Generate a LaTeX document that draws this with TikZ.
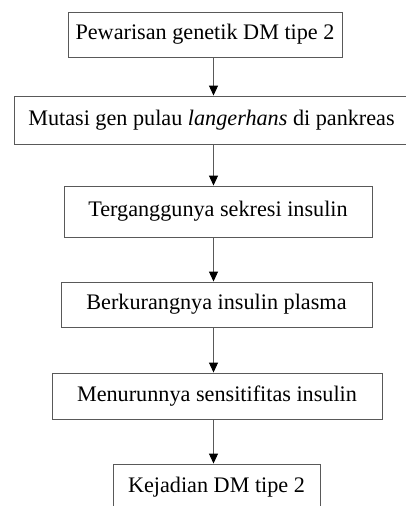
\documentclass[tikz,border=0pt]{standalone}
\usepackage{fontspec}
\setmainfont{Liberation Serif}
\usetikzlibrary{arrows.meta}
\begin{document}
\begin{tikzpicture}[x=1pt,y=-1pt,
  box/.style={draw=black!65,line width=0.9pt,rectangle,inner sep=0pt,
    font=\fontsize{22.2}{26}\selectfont},
  arr/.style={draw=black!65,line width=0.9pt,
    -{Triangle[length=10pt,width=9pt,color=black]}}]
\useasboundingbox (0,0) rectangle (406,506);
\clip (0,0) rectangle (406,506);
\node[box,minimum width=274pt,minimum height=45pt] (b1) at (205,34.5) {Pewarisan genetik DM tipe 2};
\node[box,minimum width=395pt,minimum height=48pt] (b2) at (211.5,120) {Mutasi gen pulau \textit{langerhans} di pankreas};
\node[box,minimum width=308pt,minimum height=51pt] (b3) at (218,211.5) {Terganggunya sekresi insulin};
\node[box,minimum width=311pt,minimum height=45pt] (b4) at (216.5,304.5) {Berkurangnya insulin plasma};
\node[box,minimum width=330pt,minimum height=46pt] (b5) at (217,396) {Menurunnya sensitifitas insulin};
\node[box,minimum width=207pt,minimum height=46pt] (b6) at (216.5,487) {Kejadian DM tipe 2};
\coordinate (ax) at (213.5,0);
\draw[arr] (b1.south -| ax) -- (b2.north -| ax);
\draw[arr] (b2.south -| ax) -- (b3.north -| ax);
\draw[arr] (b3.south -| ax) -- (b4.north -| ax);
\draw[arr] (b4.south -| ax) -- (b5.north -| ax);
\draw[arr] (b5.south -| ax) -- (b6.north -| ax);
\end{tikzpicture}
\end{document}
